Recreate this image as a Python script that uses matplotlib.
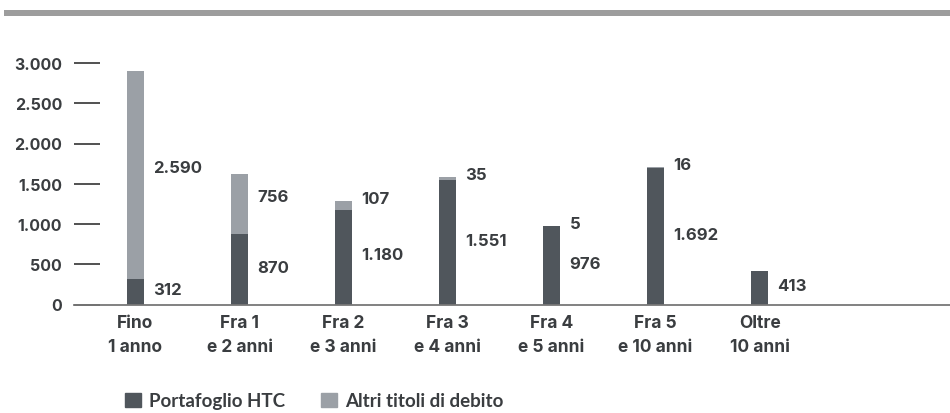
import numpy as np
import matplotlib.pyplot as plt
from matplotlib.patches import Rectangle

categorie = ["Fino\n1 anno", "Fra 1\ne 2 anni", "Fra 2\ne 3 anni", "Fra 3\ne 4 anni",
             "Fra 4\ne 5 anni", "Fra 5\ne 10 anni", "Oltre\n10 anni"]
htc = [312, 870, 1180, 1551, 976, 1692, 413]
altri = [2590, 756, 107, 35, 5, 16, 0]
yticks = [0, 500, 1000, 1500, 2000, 2500, 3000]

scuro = "#50565c"
chiaro = "#9ba0a6"
testo = "#3a3d40"

plt.rcParams['font.family'] = ['Inter', 'DejaVu Sans']

def fmt(v):
    return f"{v:,.0f}".replace(",", ".")

fig = plt.figure(figsize=(9.5, 4.14), dpi=100)
# fascia grigia in alto
fig.add_artist(Rectangle((4 / 950, 1 - 17 / 414), 946 / 950, 6 / 414,
                         transform=fig.transFigure, color="#9d9d9d", lw=0))

ax = fig.add_axes([74 / 950, (414 - 305.5) / 414, 876 / 950, 241.5 / 414])
x = np.arange(len(categorie))
w = 0.163
ax.bar(x, htc, w, color=scuro, zorder=2)
ax.bar(x, altri, w, bottom=htc, color=chiaro, zorder=2)

for i in range(len(x)):
    ax.text(x[i] + w / 2 + 0.09, htc[i] / 2 + 25, fmt(htc[i]), va="center", ha="left",
            fontsize=12, fontweight="bold", color=testo)
    if altri[i] > 0:
        if altri[i] >= 200:
            yy = htc[i] + altri[i] / 2 + 90
        else:
            yy = htc[i] + altri[i] + 30
        ax.text(x[i] + w / 2 + 0.09, yy, fmt(altri[i]), va="center", ha="left",
                fontsize=12, fontweight="bold", color=testo)

ax.set_xlim(-0.591, 7.83)
ax.set_ylim(0, 3000)
ax.set_yticks(yticks)
ax.set_yticklabels([fmt(v) for v in yticks], fontsize=11.5, fontweight="bold", color=testo)
ax.tick_params(axis="y", direction="in", length=19, width=1.1, color="#222222", pad=8.5)
ax.set_xticks(x)
ax.set_xticklabels(categorie, fontsize=12.5, fontweight="bold", color=testo, linespacing=1.55)
ax.tick_params(axis="x", length=0, pad=7)
for s in ["top", "right", "left"]:
    ax.spines[s].set_visible(False)
ax.spines["bottom"].set_color("#777777")
ax.spines["bottom"].set_linewidth(1.3)

handles = [Rectangle((0, 0), 1, 1, color=scuro), Rectangle((0, 0), 1, 1, color=chiaro)]
fig.legend(handles, ["Portafoglio HTC", "Altri titoli di debito"], loc="center left",
           bbox_to_anchor=(108 / 950, 1 - 402 / 414), ncol=2, frameon=False,
           handlelength=0.85, handleheight=0.85, handletextpad=0.45, columnspacing=1.9,
           prop={"family": ["Lato", "DejaVu Sans"], "size": 13.5, "weight": "bold"},
           labelcolor=testo)

fig.savefig("out.png", dpi=100)
